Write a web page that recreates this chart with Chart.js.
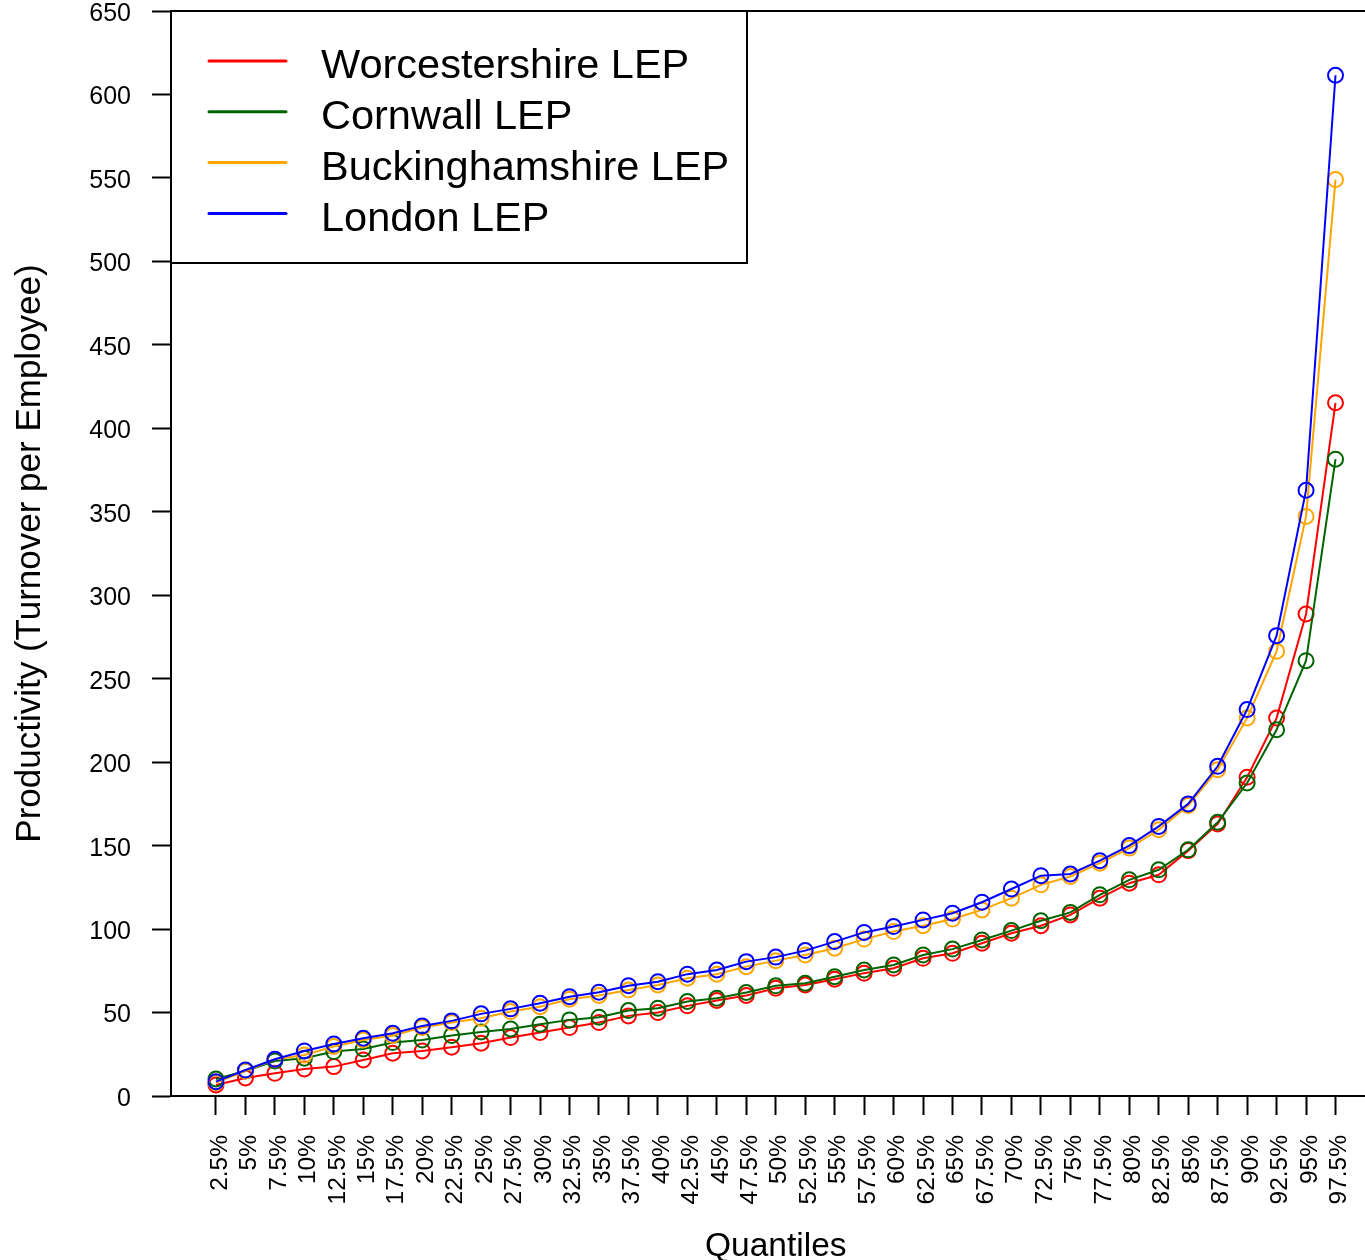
<!DOCTYPE html>
<html>
<head>
<meta charset="utf-8">
<script src="https://cdn.jsdelivr.net/npm/chart.js@4/dist/chart.umd.min.js"></script>
<style>
  html, body { margin: 0; padding: 0; background: #ffffff; overflow: hidden; }
  canvas { display: block; }
</style>
</head>
<body>
<canvas id="chart" width="1390" height="1260"></canvas>
<script>
// Quantile labels along the x axis
const quantiles = ['2.5%', '5%', '7.5%', '10%', '12.5%', '15%', '17.5%', '20%', '22.5%', '25%',
  '27.5%', '30%', '32.5%', '35%', '37.5%', '40%', '42.5%', '45%', '47.5%', '50%',
  '52.5%', '55%', '57.5%', '60%', '62.5%', '65%', '67.5%', '70%', '72.5%', '75%',
  '77.5%', '80%', '82.5%', '85%', '87.5%', '90%', '92.5%', '95%', '97.5%'];

// Productivity (turnover per employee) at each quantile
const worcestershire = [6.6, 10.8, 13.6, 16.2, 17.6, 21.6, 25.6, 27, 29.2, 31.6,
  35, 38, 41, 44, 48, 50, 54, 57.2, 60.2, 64.6,
  66.5, 70, 73.6, 76.5, 82.5, 85.5, 91.5, 97.5, 102, 108.5,
  118.5, 127.5, 132.5, 147, 163, 191, 226.4, 288.8, 415.3];
const cornwall = [10.2, 15, 21, 22.6, 26.6, 28.2, 32, 33.6, 36.2, 38.4,
  40.2, 43, 45.6, 47.2, 51.2, 52.6, 56.6, 58.6, 62, 66,
  67.6, 71.5, 75.5, 78.5, 84.5, 88, 93.5, 99.1, 105, 110,
  120.5, 129.5, 135.5, 147.5, 164, 187.5, 219.4, 260.8, 381.5];
const buckinghamshire = [8, 15, 22, 24.6, 29.6, 33.6, 36.2, 41, 44, 46.6,
  50.6, 53.5, 58, 60.2, 63.5, 66.5, 70.6, 73, 77.5, 81.1,
  84.5, 88.5, 94, 98.5, 102, 106, 111.5, 118.5, 126.5, 131.5,
  139.5, 148.5, 159.5, 174, 195.5, 226.5, 266.4, 347.2, 549];
const london = [8.6, 15.6, 22, 27, 31.2, 34.6, 37.6, 42, 45, 49.2,
  52.2, 55.6, 59.5, 62.2, 66.1, 68.5, 73, 75.5, 80.5, 83.2,
  87.1, 92.5, 98, 101.5, 105.5, 109.5, 116.1, 124, 132, 133,
  141, 150, 161.5, 175, 197.5, 231.5, 275.8, 362.9, 611.5];

// Y axis tick values
const yTicks = [0, 50, 100, 150, 200, 250, 300, 350, 400, 450, 500, 550, 600, 650];

const seriesNames = ['Worcestershire LEP', 'Cornwall LEP', 'Buckinghamshire LEP', 'London LEP'];
const seriesColors = ['#ff0000', '#006400', '#ffa500', '#0000ff'];
const seriesValues = [worcestershire, cornwall, buckinghamshire, london];

const FONT = '"Liberation Sans", Arial, Helvetica, sans-serif';

const datasets = seriesValues.map((vals, k) => ({
  label: seriesNames[k],
  data: vals.map((v, i) => ({ x: i, y: v })),
  borderColor: seriesColors[k],
  backgroundColor: 'rgba(0,0,0,0)',
  borderWidth: 2,
  pointRadius: 7.5,
  pointHoverRadius: 7.5,
  pointBorderWidth: 2,
  pointBackgroundColor: 'rgba(0,0,0,0)',
  pointBorderColor: seriesColors[k],
  tension: 0,
  // later series are painted over earlier ones
  order: seriesValues.length - 1 - k
}));

// Keep the plot frame fixed: no extra room reserved for overhanging tick labels
function noPadding(scale) {
  scale.paddingTop = 0;
  scale.paddingBottom = 0;
  scale.paddingLeft = 0;
  scale.paddingRight = 0;
}

// Top edge of the plot frame
const frameTop = {
  id: 'frameTop',
  afterDraw(chart) {
    const { ctx, chartArea: a } = chart;
    ctx.save();
    ctx.strokeStyle = '#000';
    ctx.lineWidth = 2;
    ctx.beginPath();
    ctx.moveTo(a.left, a.top);
    ctx.lineTo(chart.width, a.top);
    ctx.stroke();
    ctx.restore();
  }
};

// Boxed legend in the upper-left corner of the plot
const legendBox = {
  id: 'legendBox',
  afterDraw(chart) {
    const { ctx, chartArea: a } = chart;
    const x0 = a.left, y0 = a.top, w = 576, h = 252;
    ctx.save();
    ctx.fillStyle = '#ffffff';
    ctx.fillRect(x0, y0, w, h);
    ctx.strokeStyle = '#000';
    ctx.lineWidth = 2;
    ctx.strokeRect(x0, y0, w, h);
    chart.data.datasets.forEach((ds, k) => {
      const y = y0 + 50 + k * 50.8;
      ctx.strokeStyle = ds.borderColor;
      ctx.lineWidth = 3;
      ctx.lineCap = 'round';
      ctx.beginPath();
      ctx.moveTo(x0 + 38, y);
      ctx.lineTo(x0 + 115, y);
      ctx.stroke();
      ctx.fillStyle = '#000';
      ctx.font = '41.5px ' + FONT;
      ctx.textBaseline = 'middle';
      ctx.textAlign = 'left';
      ctx.fillText(ds.label, x0 + 150, y + 6);
    });
    ctx.restore();
  }
};

new Chart(document.getElementById('chart'), {
  type: 'line',
  data: { datasets },
  options: {
    responsive: false,
    animation: false,
    devicePixelRatio: 1,
    layout: { padding: { top: 11, right: 0, bottom: 0, left: 0 } },
    plugins: {
      legend: { display: false },
      tooltip: { enabled: false }
    },
    scales: {
      x: {
        type: 'linear',
        min: -1.5268,
        max: 39.527,
        afterBuildTicks(scale) {
          scale.ticks = quantiles.map((_, i) => ({ value: i }));
        },
        afterFit(scale) { scale.height = 164; noPadding(scale); },
        ticks: {
          autoSkip: false,
          minRotation: 90,
          maxRotation: 90,
          padding: 20,
          labelOffset: 4,
          color: '#000',
          font: { family: FONT, size: 24.5, lineHeight: 1 },
          callback: (v) => quantiles[v]
        },
        grid: {
          drawOnChartArea: false,
          drawTicks: true,
          tickLength: 19,
          tickWidth: 2,
          tickColor: '#000'
        },
        border: { display: true, color: '#000', width: 2 },
        title: {
          display: true,
          text: 'Quantiles',
          color: '#000',
          font: { family: FONT, size: 33.5, lineHeight: 1.2 },
          padding: { top: 0, bottom: -7 }
        }
      },
      y: {
        type: 'linear',
        min: 0,
        max: 650,
        afterBuildTicks(scale) {
          scale.ticks = yTicks.map(v => ({ value: v }));
        },
        afterFit(scale) { scale.width = 171; noPadding(scale); },
        ticks: {
          padding: 21,
          labelOffset: 3,
          color: '#000',
          font: { family: FONT, size: 25, lineHeight: 1 }
        },
        grid: {
          drawOnChartArea: false,
          drawTicks: true,
          tickLength: 19,
          tickWidth: 2,
          tickColor: '#000'
        },
        border: { display: true, color: '#000', width: 2 },
        title: {
          display: true,
          text: 'Productivity (Turnover per Employee)',
          color: '#000',
          font: { family: FONT, size: 35, lineHeight: 1.2 },
          padding: { top: 9, bottom: 0 }
        }
      }
    }
  },
  plugins: [frameTop, legendBox]
});
</script>
</body>
</html>
